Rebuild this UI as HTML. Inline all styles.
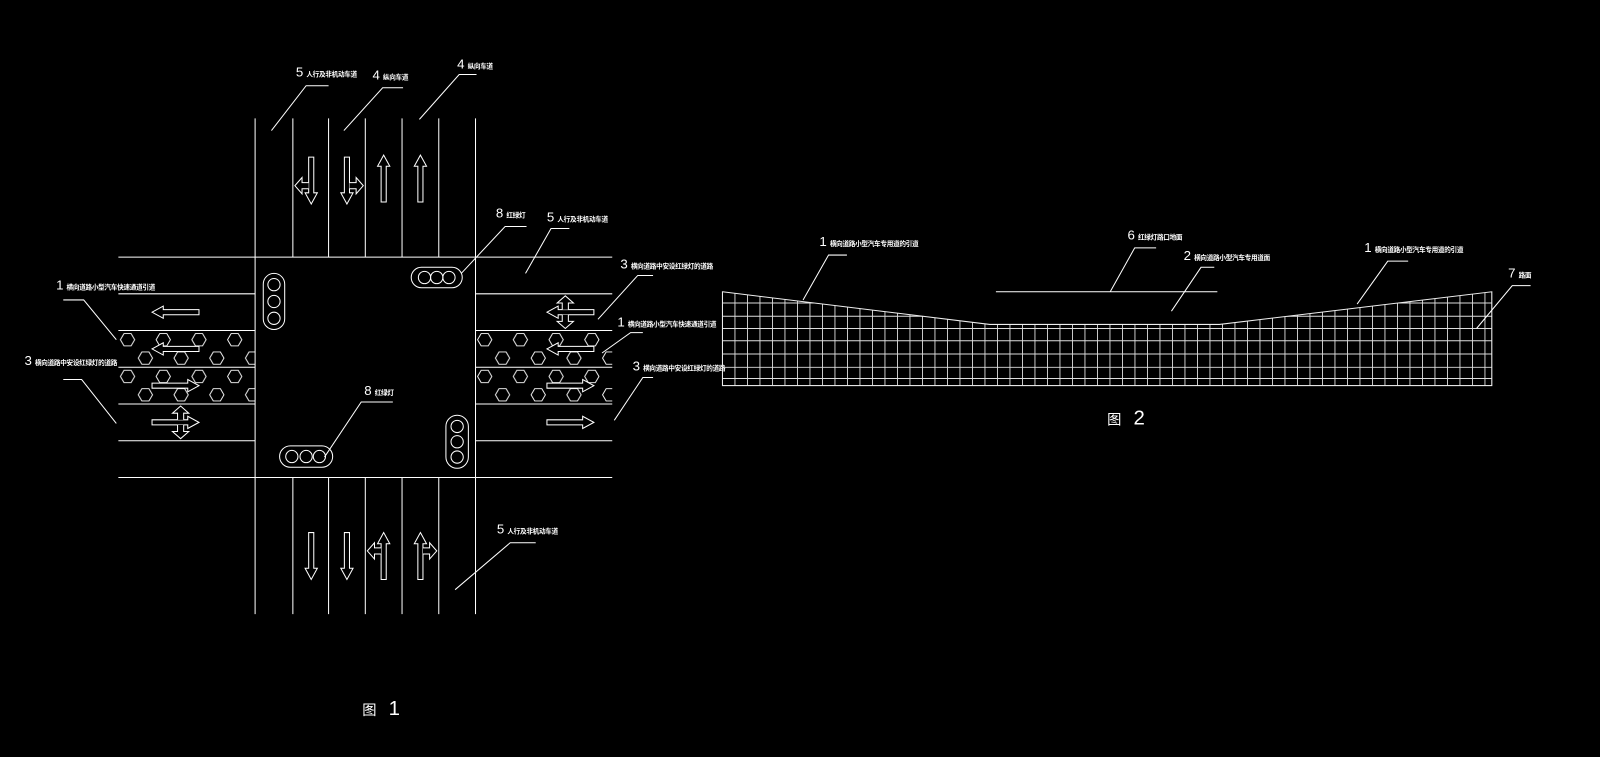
<!DOCTYPE html>
<html><head><meta charset="utf-8"><style>
html,body{margin:0;padding:0;background:#000;}
svg{display:block;}
text{fill:#fff;font-family:"Liberation Sans","Noto Sans CJK SC",sans-serif;}
.s{font-size:6.5px;font-weight:bold;letter-spacing:-0.3px;}
.n{font-size:13px;}
</style></head><body>
<svg width="1600" height="757" viewBox="0 0 1568 742" preserveAspectRatio="none" xmlns="http://www.w3.org/2000/svg">
<defs>
<pattern id="hx" x="116" y="324" width="35" height="36" patternUnits="userSpaceOnUse">
<polygon points="2,9 5.5,3 12.5,3 16,9 12.5,15 5.5,15" fill="none" stroke="#fff" stroke-width="0.9"/>
<polygon points="19.5,27 23,21 30,21 33.5,27 30,33 23,33" fill="none" stroke="#fff" stroke-width="0.9"/>
</pattern>
<pattern id="hx2" x="466" y="324" width="35" height="36" patternUnits="userSpaceOnUse">
<polygon points="2,9 5.5,3 12.5,3 16,9 12.5,15 5.5,15" fill="none" stroke="#fff" stroke-width="0.9"/>
<polygon points="19.5,27 23,21 30,21 33.5,27 30,33 23,33" fill="none" stroke="#fff" stroke-width="0.9"/>
</pattern>
<clipPath id="gc"><polygon points="708,286 970,318 1195,318 1462,286 1462,378 708,378"/></clipPath>
<g id="ar"><path d="M0,-23 L6,-12 L2.5,-12 L2.5,23 L-2.5,23 L-2.5,-12 L-6,-12 Z" fill="#000" stroke="#fff" stroke-width="1"/></g>
<g id="br"><path d="M2.5,-8 L9,-8 L9,-13 L16,-5 L9,3 L9,-2 L2.5,-2" fill="#000" stroke="#fff" stroke-width="1"/></g>
</defs>
<g stroke="#fff" stroke-width="1" fill="none">
<line x1="250" y1="116" x2="250" y2="602"/>
<line x1="466" y1="116" x2="466" y2="602"/>
<line x1="287" y1="116" x2="287" y2="252"/><line x1="322" y1="116" x2="322" y2="252"/><line x1="358" y1="116" x2="358" y2="252"/><line x1="394" y1="116" x2="394" y2="252"/><line x1="430" y1="116" x2="430" y2="252"/>
<line x1="287" y1="468" x2="287" y2="602"/><line x1="322" y1="468" x2="322" y2="602"/><line x1="358" y1="468" x2="358" y2="602"/><line x1="394" y1="468" x2="394" y2="602"/><line x1="430" y1="468" x2="430" y2="602"/>
<line x1="116" y1="252" x2="600" y2="252"/>
<line x1="116" y1="468" x2="600" y2="468"/>
<line x1="116" y1="288" x2="250" y2="288"/><line x1="466" y1="288" x2="600" y2="288"/>
<line x1="116" y1="324" x2="250" y2="324"/><line x1="466" y1="324" x2="600" y2="324"/>
<line x1="116" y1="360" x2="250" y2="360"/><line x1="466" y1="360" x2="600" y2="360"/>
<line x1="116" y1="396" x2="250" y2="396"/><line x1="466" y1="396" x2="600" y2="396"/>
<line x1="116" y1="432" x2="250" y2="432"/><line x1="466" y1="432" x2="600" y2="432"/>
</g>
<rect x="116" y="324.5" width="134" height="71" fill="url(#hx)"/>
<rect x="466" y="324.5" width="134" height="71" fill="url(#hx2)"/>
<g stroke="#fff" stroke-width="1" fill="none">
<rect x="258" y="268" width="21" height="55" rx="10.5"/>
<circle cx="268.5" cy="279" r="6"/><circle cx="268.5" cy="295.5" r="6"/><circle cx="268.5" cy="312" r="6"/>
<rect x="403" y="262" width="50" height="20" rx="10"/>
<circle cx="416" cy="272" r="6"/><circle cx="428" cy="272" r="6"/><circle cx="440" cy="272" r="6"/>
<rect x="274" y="437" width="52" height="21" rx="10.5"/>
<circle cx="286" cy="447.5" r="6"/><circle cx="300" cy="447.5" r="6"/><circle cx="313" cy="447.5" r="6"/>
<rect x="437" y="407" width="22" height="52" rx="11"/>
<circle cx="448" cy="418" r="6"/><circle cx="448" cy="433" r="6"/><circle cx="448" cy="448" r="6"/>
<polyline points="322,84 300,84 266,128"/>
<polyline points="395,86 375,86 337,128"/>
<polyline points="467,73 450,73 411,117"/>
<polyline points="516,222 495,222 452,268"/>
<polyline points="558,224 540,224 515,268"/>
<polyline points="640,270 625,270 586,313"/>
<polyline points="630,326 618,326 590,346"/>
<polyline points="640,370 630,370 602,412"/>
<polyline points="62,294 82,294 114,333"/>
<polyline points="62,372 80,372 114,415"/>
<polyline points="385,394 354,394 318,448"/>
<polyline points="525,532 500,532 446,578"/>
</g>
<g transform="translate(305,177) rotate(180)"><use href="#ar"/><use href="#br"/></g>
<g transform="translate(340,177) rotate(180) scale(-1,1)"><use href="#ar"/><use href="#br"/></g>
<use href="#ar" transform="translate(376,175)"/>
<use href="#ar" transform="translate(412,175)"/>
<use href="#ar" transform="translate(305,545) rotate(180)"/>
<use href="#ar" transform="translate(340,545) rotate(180)"/>
<g transform="translate(376,545) scale(-1,1)"><use href="#ar"/><use href="#br"/></g>
<g transform="translate(412,545)"><use href="#ar"/><use href="#br"/></g>
<use href="#ar" transform="translate(172,306) rotate(-90)"/>
<use href="#ar" transform="translate(172,342) rotate(-90)"/>
<use href="#ar" transform="translate(172,378) rotate(90)"/>
<g transform="translate(172,414) rotate(90)"><use href="#ar"/><use href="#br"/><g transform="scale(-1,1)"><use href="#br"/></g></g>
<g transform="translate(559,306) rotate(-90)"><use href="#ar"/><use href="#br"/><g transform="scale(-1,1)"><use href="#br"/></g></g>
<use href="#ar" transform="translate(559,342) rotate(-90)"/>
<use href="#ar" transform="translate(559,378) rotate(90)"/>
<use href="#ar" transform="translate(559,414) rotate(90)"/>
<text x="290" y="75"><tspan class="n">5</tspan><tspan class="s" dx="3">人行及非机动车道</tspan></text>
<text x="365" y="78"><tspan class="n">4</tspan><tspan class="s" dx="3">纵向车道</tspan></text>
<text x="448" y="67"><tspan class="n">4</tspan><tspan class="s" dx="3">纵向车道</tspan></text>
<text x="486" y="213"><tspan class="n">8</tspan><tspan class="s" dx="3">红绿灯</tspan></text>
<text x="536" y="217"><tspan class="n">5</tspan><tspan class="s" dx="3">人行及非机动车道</tspan></text>
<text x="608" y="263"><tspan class="n">3</tspan><tspan class="s" dx="3">横向道路中安设红绿灯的道路</tspan></text>
<text x="605" y="320"><tspan class="n">1</tspan><tspan class="s" dx="3">横向道路小型汽车快速通道引道</tspan></text>
<text x="620" y="363"><tspan class="n">3</tspan><tspan class="s" dx="3">横向道路中安设红绿灯的道路</tspan></text>
<text x="55" y="284"><tspan class="n">1</tspan><tspan class="s" dx="3">横向道路小型汽车快速通道引道</tspan></text>
<text x="24" y="358"><tspan class="n">3</tspan><tspan class="s" dx="3">横向道路中安设红绿灯的道路</tspan></text>
<text x="357" y="387"><tspan class="n">8</tspan><tspan class="s" dx="3">红绿灯</tspan></text>
<text x="487" y="523"><tspan class="n">5</tspan><tspan class="s" dx="3">人行及非机动车道</tspan></text>
<text x="355" y="701" style="font-size:14px">图 <tspan dx="8" style="font-size:20px;font-weight:100">1</tspan></text>
<g clip-path="url(#gc)" stroke="#ddd" stroke-width="0.9">
<path d="M708,280V378 M720.25,280V378 M732.5,280V378 M744.75,280V378 M757,280V378 M769.25,280V378 M781.5,280V378 M793.75,280V378 M806,280V378 M818.25,280V378 M830.5,280V378 M842.75,280V378 M855,280V378 M867.25,280V378 M879.5,280V378 M891.75,280V378 M904,280V378 M916.25,280V378 M928.5,280V378 M940.75,280V378 M953,280V378 M965.25,280V378 M977.5,280V378 M989.75,280V378 M1002,280V378 M1014.25,280V378 M1026.5,280V378 M1038.75,280V378 M1051,280V378 M1063.25,280V378 M1075.5,280V378 M1087.75,280V378 M1100,280V378 M1112.25,280V378 M1124.5,280V378 M1136.75,280V378 M1149,280V378 M1161.25,280V378 M1173.5,280V378 M1185.75,280V378 M1198,280V378 M1210.25,280V378 M1222.5,280V378 M1234.75,280V378 M1247,280V378 M1259.25,280V378 M1271.5,280V378 M1283.75,280V378 M1296,280V378 M1308.25,280V378 M1320.5,280V378 M1332.75,280V378 M1345,280V378 M1357.25,280V378 M1369.5,280V378 M1381.75,280V378 M1394,280V378 M1406.25,280V378 M1418.5,280V378 M1430.75,280V378 M1443,280V378 M1455.25,280V378 M1462,280V378"/>
<path d="M708,297H1462 M708,310H1462 M708,322H1462 M708,334H1462 M708,347H1462 M708,360H1462 M708,371H1462 M708,378H1462"/>
</g>
<polygon points="708,286 970,318 1195,318 1462,286 1462,378 708,378" fill="none" stroke="#eee" stroke-width="1"/>
<g stroke="#fff" stroke-width="1" fill="none">
<line x1="976" y1="286" x2="1193" y2="286"/>
<polyline points="1133,243 1112,243 1088,286"/>
<polyline points="1190,262 1177,262 1148,305"/>
<polyline points="830,250 812,250 787,294"/>
<polyline points="1380,256 1360,256 1330,298"/>
<polyline points="1500,280 1482,280 1447,322"/>
</g>
<text x="1105" y="235"><tspan class="n">6</tspan><tspan class="s" dx="3">红绿灯路口地面</tspan></text>
<text x="1160" y="255"><tspan class="n">2</tspan><tspan class="s" dx="3">横向道路小型汽车专用道面</tspan></text>
<text x="803" y="241"><tspan class="n">1</tspan><tspan class="s" dx="3">横向道路小型汽车专用道的引道</tspan></text>
<text x="1337" y="247"><tspan class="n">1</tspan><tspan class="s" dx="3">横向道路小型汽车专用道的引道</tspan></text>
<text x="1478" y="272"><tspan class="n">7</tspan><tspan class="s" dx="3">路面</tspan></text>
<text x="1085" y="416" style="font-size:14px">图 <tspan dx="8" style="font-size:20px;font-weight:100">2</tspan></text>
</svg>
</body></html>
